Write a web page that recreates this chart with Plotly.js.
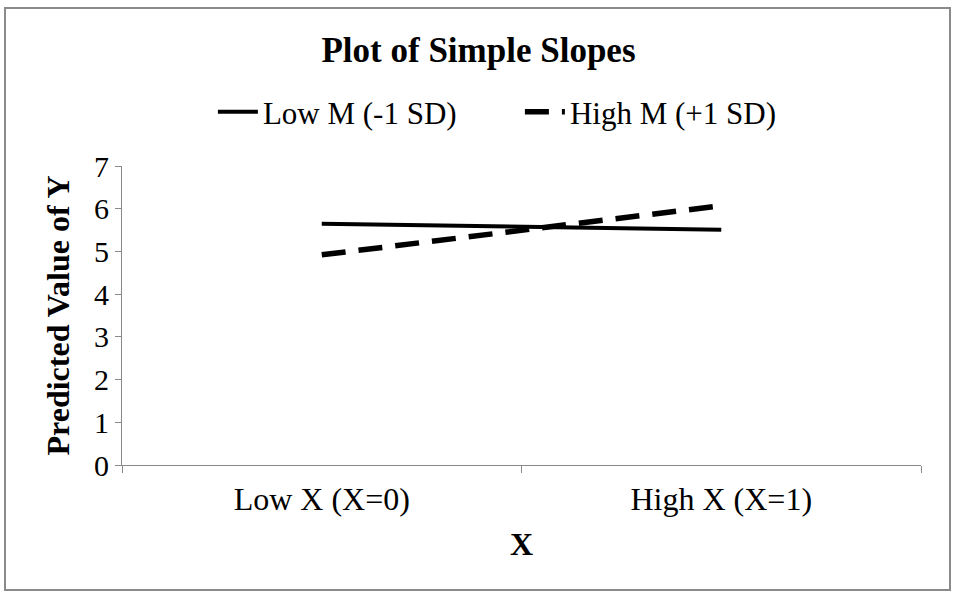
<!DOCTYPE html>
<html><head><meta charset="utf-8">
<script src="https://cdn.plot.ly/plotly-3.0.1.min.js"></script>
<style>
body{margin:0;background:#fff;}
#wrap{position:relative;width:957px;height:599px;}
#chart{position:absolute;left:0;top:0;width:957px;height:599px;}
#frame{position:absolute;left:4px;top:7px;width:943px;height:580px;border:2px solid #8a8a8a;pointer-events:none;}
</style></head>
<body>
<div id="wrap"><div id="chart"></div><div id="frame"></div></div>
<script>
const categories = ["Low X (X=0)", "High X (X=1)"];
const lowM = [5.65, 5.51];
const highM = [4.92, 6.07];
const seriesNames = ["Low M (-1 SD)", "High M (+1 SD)"];

const serif = "Liberation Serif, Times New Roman, serif";
const traces = [
  {x: categories, y: lowM, name: seriesNames[0], type: "scatter", mode: "lines",
   line: {color: "#000", width: 4}},
  {x: categories, y: highM, name: seriesNames[1], type: "scatter", mode: "lines",
   line: {color: "#000", width: 5.5, dash: "24px,13px"}}
];
const layout = {
  width: 957, height: 599,
  margin: {l: 122, r: 36, t: 166, b: 134},
  paper_bgcolor: "#fff", plot_bgcolor: "#fff",
  font: {family: serif, color: "#000", size: 30},
  title: {text: "<b>Plot of Simple Slopes</b>", font: {family: serif, size: 35, color: "#000"},
          x: 0.5, xanchor: "center", y: 1 - 50/599, yanchor: "middle"},
  showlegend: true,
  legend: {orientation: "h", x: 0.498, xanchor: "center", y: 1 - 112/599, yref: "container", yanchor: "middle",
           font: {family: serif, size: 31, color: "#000"}, itemwidth: 40,
           entrywidth: 252, entrywidthmode: "pixels"},
  xaxis: {type: "category", range: [-0.5, 1.5], tickson: "boundaries", ticks: "outside", ticklen: 7,
          tickcolor: "#8a8a8a", showline: true, linecolor: "#8a8a8a", linewidth: 1, ticklabelstandoff: 6,
          showgrid: false, zeroline: false, tickfont: {family: serif, size: 32, color: "#000"},
          title: {text: "<b>X</b>", font: {family: serif, size: 32, color: "#000"}, standoff: 16}},
  yaxis: {range: [0, 7], dtick: 1, ticks: "outside", ticklen: 6, tickcolor: "#8a8a8a",
          showline: true, linecolor: "#8a8a8a", linewidth: 1, showgrid: false, zeroline: false,
          tickfont: {family: serif, size: 30, color: "#000"},
          title: {text: "<b>Predicted Value of Y</b>", font: {family: serif, size: 32, color: "#000"}, standoff: 14}}
};
Plotly.newPlot("chart", traces, layout, {displayModeBar: false, staticPlot: true});
</script>
</body></html>
